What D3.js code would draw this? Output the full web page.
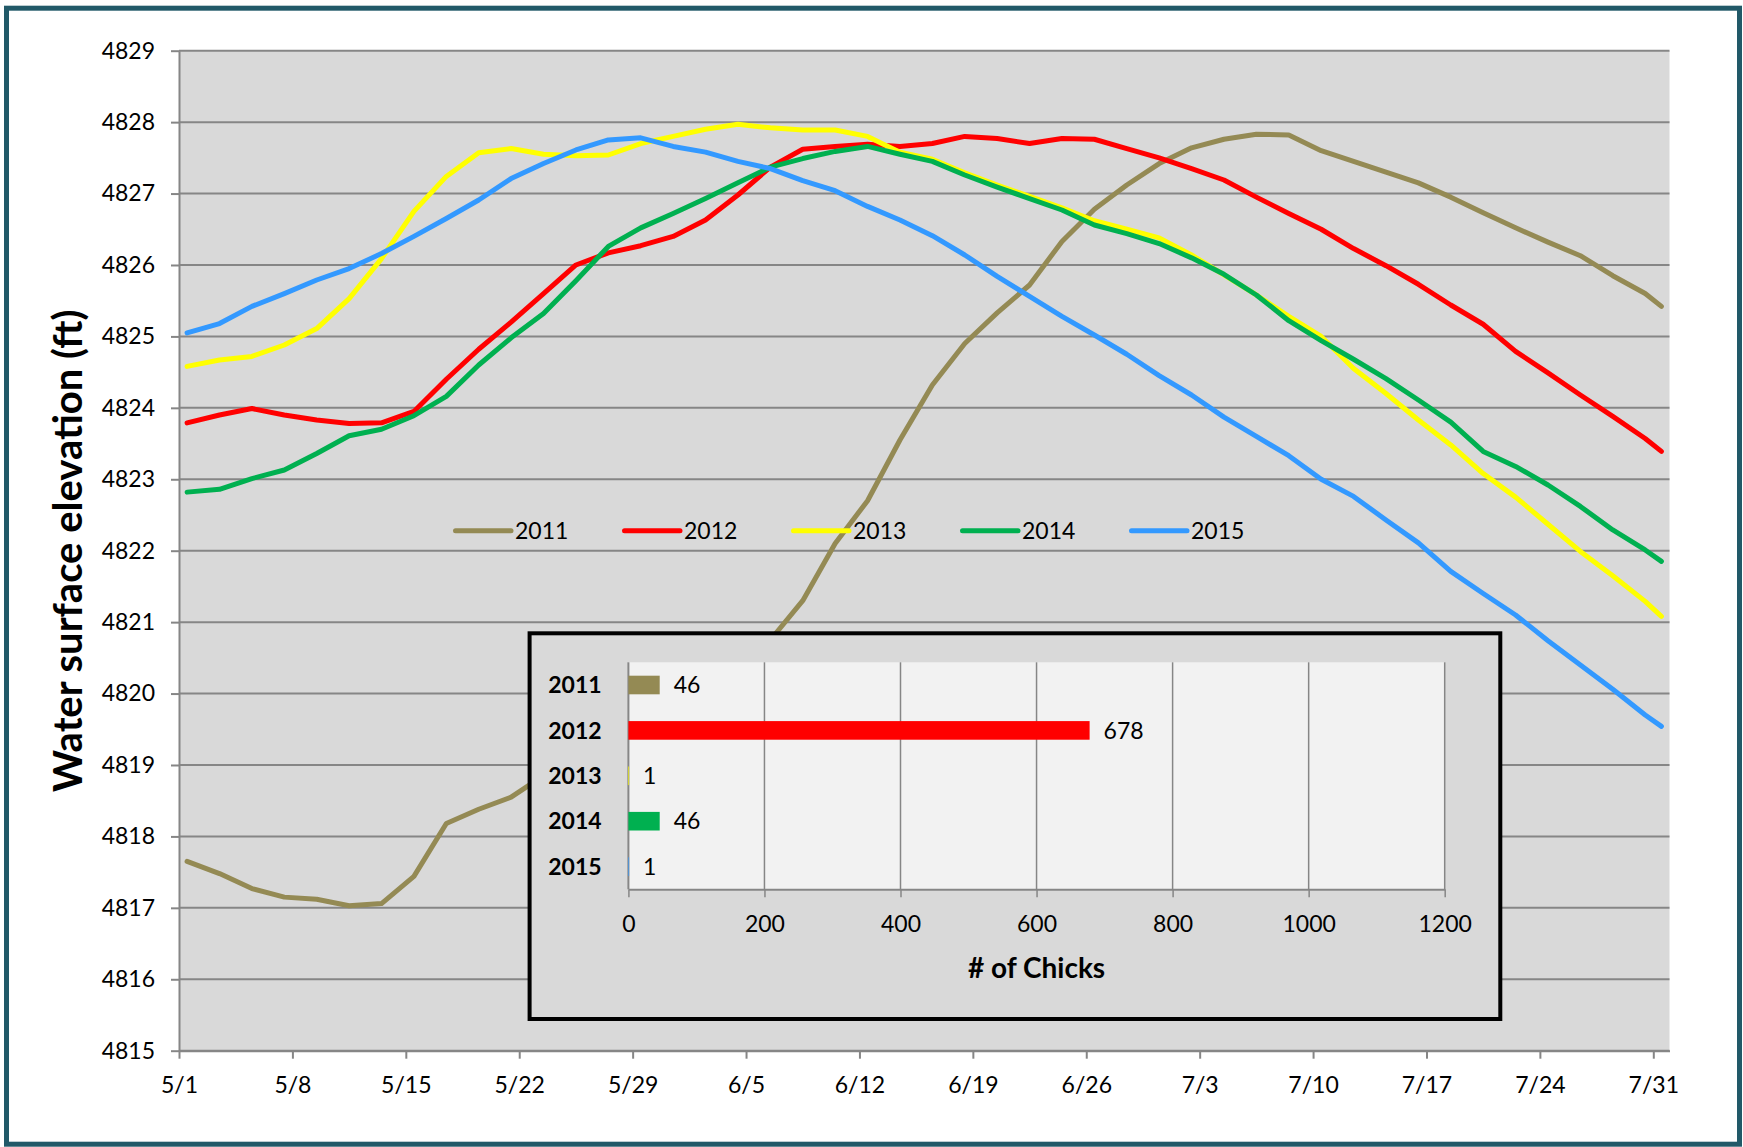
<!DOCTYPE html>
<html>
<head>
<meta charset="utf-8">
<script src="https://cdn.jsdelivr.net/npm/d3@7"></script>
<style>
  body { margin: 0; background: #fff; }
  svg { display: block; font-family: Lato, 'Open Sans', sans-serif; }
</style>
</head>
<body>
<svg width="1743" height="1147"></svg>
<script>
// ---- Data: days since May 1 (sampled every 2 days) and elevations (ft)
const days = [0, 2, 4, 6, 8, 10, 12, 14, 16, 18, 20, 22, 24, 26, 28, 30, 32, 34, 36, 38, 40, 42, 44, 46,
  48, 50, 52, 54, 56, 58, 60, 62, 64, 66, 68, 70, 72, 74, 76, 78, 80, 82, 84, 86, 88, 90, 91];

const elev2011 = [4817.65, 4817.48, 4817.27, 4817.15, 4817.12, 4817.03, 4817.06, 4817.44, 4818.18, 4818.38,
  4818.55, 4818.85, 4819.10, 4819.35, 4819.60, 4819.85, 4820.10, 4820.40, 4820.75, 4821.30, 4822.10, 4822.70,
  4823.55, 4824.32, 4824.90, 4825.33, 4825.72, 4826.33, 4826.78, 4827.12, 4827.42, 4827.64, 4827.76, 4827.83,
  4827.82, 4827.60, 4827.45, 4827.30, 4827.15, 4826.95, 4826.73, 4826.52, 4826.32, 4826.13, 4825.85, 4825.60, 4825.42];

const elev2012 = [4823.79, 4823.90, 4823.99, 4823.90, 4823.83, 4823.78, 4823.79, 4823.95, 4824.40, 4824.82,
  4825.20, 4825.60, 4826.00, 4826.17, 4826.27, 4826.40, 4826.63, 4826.98, 4827.37, 4827.62, 4827.66, 4827.69,
  4827.66, 4827.70, 4827.80, 4827.77, 4827.70, 4827.77, 4827.76, 4827.63, 4827.50, 4827.35, 4827.19, 4826.95,
  4826.72, 4826.50, 4826.23, 4825.99, 4825.73, 4825.44, 4825.17, 4824.79, 4824.49, 4824.18, 4823.88, 4823.57, 4823.39];

const elev2013 = [4824.58, 4824.67, 4824.72, 4824.88, 4825.11, 4825.53, 4826.09, 4826.75, 4827.24, 4827.57,
  4827.63, 4827.55, 4827.53, 4827.54, 4827.70, 4827.80, 4827.90, 4827.97, 4827.92, 4827.89, 4827.89, 4827.80,
  4827.58, 4827.48, 4827.29, 4827.12, 4826.96, 4826.80, 4826.62, 4826.50, 4826.38, 4826.14, 4825.86, 4825.58,
  4825.28, 4825.00, 4824.55, 4824.20, 4823.83, 4823.48, 4823.08, 4822.75, 4822.37, 4821.99, 4821.65, 4821.29, 4821.08];

const elev2014 = [4822.82, 4822.86, 4823.01, 4823.13, 4823.36, 4823.61, 4823.70, 4823.89, 4824.16, 4824.60,
  4824.98, 4825.32, 4825.78, 4826.26, 4826.52, 4826.72, 4826.93, 4827.15, 4827.37, 4827.49, 4827.59, 4827.66,
  4827.55, 4827.45, 4827.26, 4827.09, 4826.93, 4826.77, 4826.56, 4826.44, 4826.30, 4826.10, 4825.87, 4825.58,
  4825.22, 4824.94, 4824.68, 4824.41, 4824.11, 4823.80, 4823.39, 4823.18, 4822.92, 4822.62, 4822.29, 4822.01, 4821.85];

const elev2015 = [4825.05, 4825.18, 4825.42, 4825.60, 4825.79, 4825.95, 4826.16, 4826.40, 4826.65, 4826.91,
  4827.21, 4827.42, 4827.61, 4827.75, 4827.78, 4827.66, 4827.58, 4827.45, 4827.35, 4827.18, 4827.04, 4826.82,
  4826.63, 4826.41, 4826.14, 4825.84, 4825.56, 4825.28, 4825.02, 4824.75, 4824.45, 4824.18, 4823.87, 4823.60,
  4823.33, 4823.00, 4822.76, 4822.43, 4822.11, 4821.71, 4821.40, 4821.10, 4820.74, 4820.40, 4820.06, 4819.70, 4819.54];

const years = ['2011', '2012', '2013', '2014', '2015'];
const chicks = [46, 678, 1, 46, 1];
const colors = ['#948a54', '#ff0000', '#ffff00', '#00b050', '#3399ff'];

const series = [elev2011, elev2012, elev2013, elev2014, elev2015];

const svg = d3.select('svg');
const gridColor = '#868686';

// ---- Outer frame
svg.append('rect')
  .attr('x', 6.5).attr('y', 8.2)
  .attr('width', 1733).attr('height', 1136)
  .attr('fill', '#fff')
  .attr('stroke', '#215968')
  .attr('stroke-width', 5);

// ---- Scales
const start = Date.UTC(2015, 4, 1);
const dayDate = d => new Date(start + d * 864e5);

const x = d3.scaleUtc()
  .domain([dayDate(0), dayDate(92)])
  .range([179, 1669.5]);

const y = d3.scaleLinear()
  .domain([4815, 4829])
  .range([1050.7, 50.7]);

// ---- Plot area
svg.append('rect')
  .attr('x', x.range()[0]).attr('y', y(4829))
  .attr('width', x.range()[1] - x.range()[0])
  .attr('height', y(4815) - y(4829))
  .attr('fill', '#d9d9d9');

const yTicks = d3.range(4815, 4830);

svg.append('g')
  .selectAll('line')
  .data(yTicks)
  .enter()
  .append('line')
  .attr('x1', x.range()[0])
  .attr('x2', x.range()[1])
  .attr('y1', d => y(d))
  .attr('y2', d => y(d))
  .attr('stroke', gridColor)
  .attr('stroke-width', 2);

// ---- Axes
const eixoY = svg.append('g')
  .attr('transform', `translate(${x.range()[0]},0)`)
  .call(d3.axisLeft(y).tickValues(yTicks).tickFormat(d3.format('d')).tickSizeInner(8).tickSizeOuter(0).tickPadding(16));

const eixoX = svg.append('g')
  .attr('transform', `translate(0,${y(4815)})`)
  .call(d3.axisBottom(x)
    .tickValues(d3.range(0, 92, 7).map(dayDate))
    .tickFormat(d3.utcFormat('%-m/%-d'))
    .tickSizeInner(8).tickSizeOuter(0));

[eixoY, eixoX].forEach(ax => {
  ax.select('.domain').attr('stroke', gridColor).attr('stroke-width', 2);
  ax.selectAll('.tick line').attr('stroke', gridColor).attr('stroke-width', 2);
  ax.selectAll('text')
    .attr('fill', '#000')
    .style('font-size', '23px')
    .style('font-family', 'Lato');
});
eixoX.selectAll('text').attr('dy', null).attr('y', 42);

svg.append('text')
  .attr('transform', `translate(82, ${(y(4815) + y(4829)) / 2}) rotate(-90)`)
  .attr('text-anchor', 'middle')
  .style('font-size', '40px')
  .style('font-weight', 'bold')
  .text('Water surface elevation (ft)');

// ---- Lines
const linha = d3.line()
  .x(d => x(dayDate(d.day + 0.5)))
  .y(d => y(d.v));

series.forEach((vals, i) => {
  const pts = days.map((day, k) => ({ day, v: vals[k] }));
  svg.append('path')
    .datum(pts)
    .attr('d', linha)
    .attr('fill', 'none')
    .attr('stroke', colors[i])
    .attr('stroke-width', 5)
    .attr('stroke-linejoin', 'round')
    .attr('stroke-linecap', 'round');
});

// ---- Legend
const legend = svg.append('g').attr('transform', 'translate(455.5, 530.7)');
years.forEach((yr, i) => {
  const item = legend.append('g').attr('transform', `translate(${i * 169}, 0)`);
  item.append('line')
    .attr('x1', 0).attr('x2', 55.5)
    .attr('stroke', colors[i])
    .attr('stroke-width', 5)
    .attr('stroke-linecap', 'round');
  item.append('text')
    .attr('x', 59.5).attr('y', 7.8)
    .style('font-size', '23px')
    .text(yr);
});

// ---- Inset bar chart (# of chicks)
svg.append('rect')
  .attr('x', 529.6).attr('y', 633.3)
  .attr('width', 970.7).attr('height', 385.7)
  .attr('fill', '#d9d9d9')
  .attr('stroke', '#000')
  .attr('stroke-width', 4);

const bx = d3.scaleLinear().domain([0, 1200]).range([628.4, 1444.7]);
const by = d3.scaleBand().domain(years).range([662.3, 889.3]).paddingInner(0.59).paddingOuter(0.295);

svg.append('rect')
  .attr('x', bx(0)).attr('y', by.range()[0])
  .attr('width', bx(1200) - bx(0))
  .attr('height', by.range()[1] - by.range()[0])
  .attr('fill', '#f2f2f2');

const bTicks = d3.range(0, 1201, 200);
svg.append('g')
  .selectAll('line')
  .data(bTicks)
  .enter()
  .append('line')
  .attr('x1', d => bx(d)).attr('x2', d => bx(d))
  .attr('y1', by.range()[0]).attr('y2', by.range()[1])
  .attr('stroke', gridColor)
  .attr('stroke-width', d => d === 0 ? 2 : 1.5);

const eixoB = svg.append('g')
  .attr('transform', `translate(0,${by.range()[1]})`)
  .call(d3.axisBottom(bx).tickValues(bTicks).tickFormat(d3.format('d')).tickSizeInner(8).tickSizeOuter(0));
eixoB.select('.domain').attr('stroke', gridColor).attr('stroke-width', 2);
eixoB.selectAll('.tick line').attr('stroke', gridColor).attr('stroke-width', 1.5);
eixoB.selectAll('text')
  .attr('fill', '#000')
  .attr('dy', null).attr('y', 42.5)
  .style('font-size', '23px')
  .style('font-family', 'Lato');

svg.append('text')
  .attr('x', (bx(0) + bx(1200)) / 2).attr('y', 978)
  .attr('text-anchor', 'middle')
  .style('font-size', '28px')
  .style('font-weight', 'bold')
  .text('# of Chicks');

svg.append('g')
  .selectAll('text')
  .data(years)
  .enter()
  .append('text')
  .attr('x', 601.6)
  .attr('y', d => by(d) + by.bandwidth() / 2)
  .attr('dy', '0.36em')
  .attr('text-anchor', 'end')
  .style('font-size', '23px')
  .style('font-weight', 'bold')
  .text(d => d);

svg.append('g')
  .selectAll('rect')
  .data(years)
  .enter()
  .append('rect')
  .attr('x', bx(0))
  .attr('y', d => by(d))
  .attr('width', (d, i) => bx(chicks[i]) - bx(0))
  .attr('height', by.bandwidth())
  .attr('fill', (d, i) => colors[i]);

svg.append('g')
  .selectAll('text')
  .data(years)
  .enter()
  .append('text')
  .attr('x', (d, i) => bx(chicks[i]) + 14)
  .attr('y', d => by(d) + by.bandwidth() / 2)
  .attr('dy', '0.36em')
  .style('font-size', '23px')
  .text((d, i) => chicks[i]);
</script>
</body>
</html>
